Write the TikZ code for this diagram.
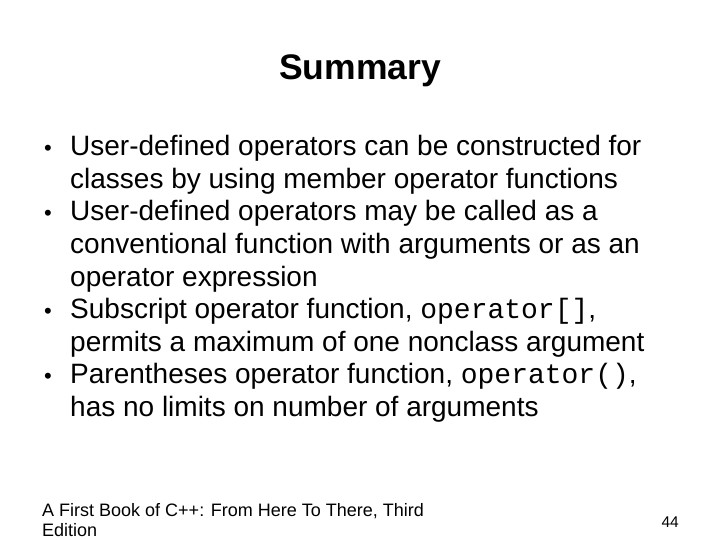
\documentclass[tikz,border=0pt]{standalone}
\usepackage{fontspec}
\setmainfont{Liberation Sans}
\setmonofont{Liberation Mono}
\begin{document}
\begin{tikzpicture}[x=1pt,y=-1pt,
  ln/.style={anchor=base west,inner sep=0pt,font=\fontsize{28}{32}\selectfont},
  bl/.style={anchor=base west,inner sep=0pt,font=\fontsize{22}{28}\selectfont}]
\useasboundingbox[fill=white] (0,0) rectangle (720,540);
\node[anchor=base,inner sep=0pt,font=\bfseries\fontsize{35.5}{40}\selectfont] (title) at (360,80) {Summary};
\node[bl] (b1) at (44,156) {•};
\node[ln] (l1) at (70,156) {User-defined operators can be constructed for};
\node[ln] (l2) at (70,188.5) {classes by using member operator functions};
\node[bl] (b2) at (44,221) {•};
\node[ln] (l3) at (70,221) {User-defined operators may be called as a};
\node[ln] (l4) at (70,253.5) {conventional function with arguments or as an};
\node[ln] (l5) at (70,286) {operator expression};
\node[bl] (b3) at (44,318.5) {•};
\node[ln] (l6) at (70,318.5) {Subscript operator function, \texttt{operator[]},};
\node[ln] (l7) at (70,351) {permits a maximum of one nonclass argument};
\node[bl] (b4) at (44,383.5) {•};
\node[ln] (l8) at (70,383.5) {Parentheses operator function, \texttt{operator()},};
\node[ln] (l9) at (70,416) {has no limits on number of arguments};
\node[anchor=base west,inner sep=0pt,font=\fontsize{18}{21}\selectfont] (f1) at (42,516) {A First Book of C++: From Here To There, Third};
\node[anchor=base west,inner sep=0pt,font=\fontsize{18}{21}\selectfont] (f2) at (42,536) {Edition};
\node[anchor=base east,inner sep=0pt,font=\fontsize{15.5}{18}\selectfont] (pg) at (679,527) {44};
\end{tikzpicture}
\end{document}
